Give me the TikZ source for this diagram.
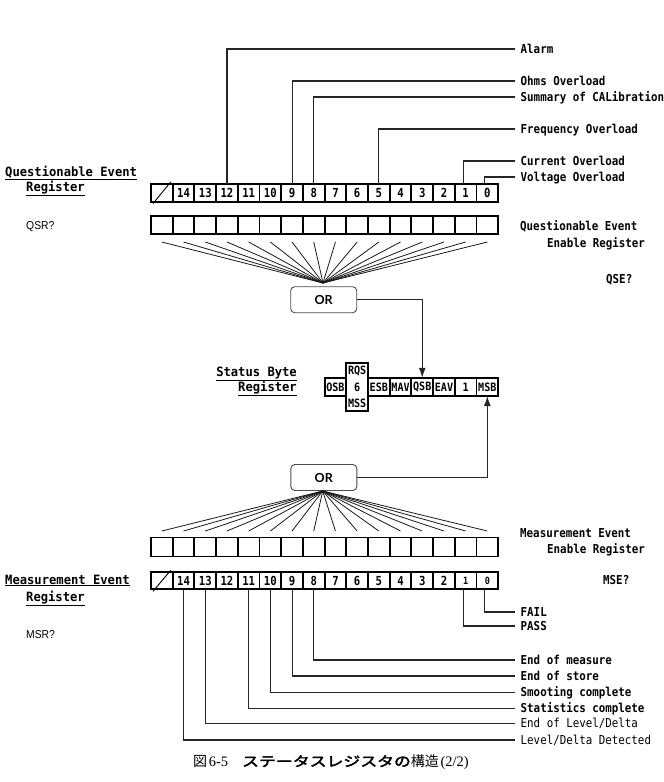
\documentclass[tikz,border=0pt]{standalone}
\usepackage{fontspec}
\setmainfont{DejaVu Sans Mono}
\newfontfamily\labf{DejaVu Sans Mono}[FakeStretch=0.88]
\newfontfamily\headf{DejaVu Sans Mono}[FakeStretch=0.95]
\newfontfamily\numf{DejaVu Sans Mono}[FakeStretch=0.85]
\newfontfamily\orf{Lato}
\newfontfamily\qsrf{Liberation Sans}[FakeStretch=0.9]
\newfontfamily\cjk{Noto Sans CJK JP}
\newfontfamily\cjkheavy{Noto Sans CJK JP}[FakeBold=3,FakeStretch=1.25]
\newfontfamily\capserif{Liberation Serif}
\usetikzlibrary{arrows.meta}
\tikzset{
  cell/.style={draw, line width=1.9pt, minimum width=21.7pt, minimum height=17.7pt,
    inner sep=0pt, outer sep=0pt, font=\numf\bfseries\fontsize{12.5}{12.5}\selectfont},
  scell/.style={cell, minimum height=18.3pt, font=\labf\bfseries\fontsize{11.5}{11.5}\selectfont},
  lbl/.style={anchor=west, inner xsep=5.5pt, inner ysep=0pt, text height=9pt, text depth=1pt,
    font=\labf\bfseries\fontsize{12.3}{12.5}\selectfont},
  lbllight/.style={lbl, font=\labf\fontsize{12.3}{12.5}\selectfont},
  txt/.style={anchor=west, inner sep=0pt, text height=9pt, text depth=1pt,
    font=\labf\bfseries\fontsize{12.3}{12.5}\selectfont},
  headtxt/.style={anchor=west, inner sep=0pt, text height=9pt, text depth=1pt,
    font=\headf\bfseries\fontsize{12.8}{12.8}\selectfont},
  qtxt/.style={anchor=west, inner sep=0pt, text height=9pt, text depth=1pt, font=\qsrf\fontsize{11.5}{11.5}\selectfont},
  conn/.style={line width=1.1pt, draw=black!85},
  fan/.style={line width=0.8pt, draw=black!90},
  orbox/.style={draw=black!70, line width=0.9pt, rounded corners=4pt, minimum width=66pt,
    minimum height=26pt, inner sep=0pt, font=\orf\bfseries\fontsize{12.5}{12.5}\selectfont},
  arr/.style={conn, -{Latex[length=10pt,width=7pt]}}
}
\begin{document}
\begin{tikzpicture}[x=1pt,y=-1pt]
\useasboundingbox (0,0) rectangle (664,782);

% ---------- Questionable Event Register ----------
\node[cell] (qr0) at (161.85,192.8) {};
\draw[line width=0.9pt] ([shift={(2pt,-2pt)}]qr0.south west) -- ([shift={(-2pt,2pt)}]qr0.north east);
\foreach \k in {1,...,15} {
  \pgfmathtruncatemacro\b{15-\k}
  \node[cell] (qr\k) at ({151+21.7*(\k+0.5)},192.8) {\b};
}
% enable register
\foreach \k in {0,...,15} {
  \node[cell] (qe\k) at ({151+21.7*(\k+0.5)},224.7) {};
}
% fan
\coordinate (apex1) at (323,283);
\foreach \k in {0,...,15} {
  \coordinate (tf\k) at ({151+21.7*(\k+0.5)},242);
  \draw[fan] (tf\k) -- (apex1);
}
\node[orbox] (or1) at (323.7,299.7) {OR};

% top labels
\node[lbl] (lAlarm) at (515,49) {Alarm};
\node[lbl] (lOhms) at (515,81) {Ohms Overload};
\node[lbl] (lSum) at (515,97) {Summary of CALibration};
\node[lbl] (lFreq) at (515,129) {Frequency Overload};
\node[lbl] (lCur) at (515,161) {Current Overload};
\node[lbl] (lVolt) at (515,177) {Voltage Overload};
\draw[conn] (qr3.north) |- (lAlarm.west);
\draw[conn] (qr6.north) |- (lOhms.west);
\draw[conn] (qr7.north) |- (lSum.west);
\draw[conn] (qr10.north) |- (lFreq.west);
\draw[conn] ([xshift=-2.5pt]qr14.north) |- (lCur.west);
\draw[conn] ([xshift=-2.5pt]qr15.north) |- (lVolt.west);

\node[headtxt] (qh1) at (5,172) {\underline{Questionable Event}};
\node[headtxt] (qh2) at (26,187) {\underline{Register}};
\node[qtxt] (qsr) at (26,225) {QSR?};
\node[txt] (qe1t) at (520,226) {Questionable Event};
\node[txt] (qe2t) at (547,243) {Enable Register};
\node[txt] (qse) at (606,279) {QSE?};

% ---------- Status Byte Register ----------
\node[scell] (sOSB) at ({151+21.7*8.5},386.9) {OSB};
\node[cell, minimum height=48.3pt] (sRQS) at ({151+21.7*9.5},386.9) {};
\node[inner sep=0pt, font=\labf\bfseries\fontsize{11.5}{11.5}\selectfont] (tRQS) at ({151+21.7*9.5},371.5) {RQS};
\node[inner sep=0pt, font=\labf\bfseries\fontsize{11.5}{11.5}\selectfont] (t6) at ({151+21.7*9.5},387) {6};
\node[inner sep=0pt, font=\labf\bfseries\fontsize{11.5}{11.5}\selectfont] (tMSS) at ({151+21.7*9.5},403) {MSS};
\node[scell] (sESB) at ({151+21.7*10.5},386.9) {ESB};
\node[scell] (sMAV) at ({151+21.7*11.5},386.9) {MAV};
\node[scell] (sQSB) at ({151+21.7*12.5},386.9) {QSB};
\node[scell] (sEAV) at ({151+21.7*13.5},386.9) {EAV};
\node[scell] (s1) at ({151+21.7*14.5},386.9) {1};
\node[scell] (sMSB) at ({151+21.7*15.5},386.9) {MSB};
\node[headtxt, anchor=east] (sb1) at (297,372) {\underline{Status Byte}};
\node[headtxt, anchor=east] (sb2) at (297,387) {\underline{Register}};

\draw[arr] (or1.east) -| (sQSB.north);

% ---------- Measurement Event Register ----------
\node[orbox] (or2) at (323.8,477.5) {OR};
\draw[arr] (or2.east) -| (sMSB.south);
\coordinate (apex2) at (322.7,491);
\foreach \k in {0,...,15} {
  \coordinate (bf\k) at ({151+21.7*(\k+0.5)},531);
  \draw[fan] (bf\k) -- (apex2);
}
\foreach \k in {0,...,15} {
  \node[cell, minimum height=19pt] (me\k) at ({151+21.7*(\k+0.5)},547) {};
}
\node[cell, minimum height=17pt] (mr0) at (161.85,580.8) {};
\draw[line width=0.9pt] ([shift={(2pt,-2pt)}]mr0.south west) -- ([shift={(-2pt,2pt)}]mr0.north east);
\foreach \k in {1,...,13} {
  \pgfmathtruncatemacro\b{15-\k}
  \node[cell, minimum height=17pt] (mr\k) at ({151+21.7*(\k+0.5)},580.8) {\b};
}
\node[cell, minimum height=17pt, font=\numf\bfseries\fontsize{10}{10}\selectfont] (mr14) at ({151+21.7*14.5},580.8) {1};
\node[cell, minimum height=17pt, font=\numf\bfseries\fontsize{10}{10}\selectfont] (mr15) at ({151+21.7*15.5},580.8) {0};

\node[txt] (me1t) at (520,533) {Measurement Event};
\node[txt] (me2t) at (547,549) {Enable Register};
\node[txt] (mse) at (603,580) {MSE?};
\node[headtxt] (mh1) at (5,580) {\underline{Measurement Event}};
\node[headtxt] (mh2) at (26,597) {\underline{Register}};
\node[qtxt] (msr) at (26,634) {MSR?};

% bottom labels
\node[lbl] (lFail) at (515,612) {FAIL};
\node[lbl] (lPass) at (515,626) {PASS};
\node[lbl] (lEom) at (515,660) {End of measure};
\node[lbl] (lEos) at (515,676) {End of store};
\node[lbl] (lSmo) at (515,692.5) {Smooting complete};
\node[lbl] (lSta) at (515,708.3) {Statistics complete};
\node[lbllight] (lEld) at (515,723.5) {End of Level/Delta};
\node[lbllight] (lLdd) at (515,740) {Level/Delta Detected};
\draw[conn] ([xshift=-2.5pt]mr15.south) |- (lFail.west);
\draw[conn] ([xshift=-2.5pt]mr14.south) |- (lPass.west);
\draw[conn] (mr7.south) |- (lEom.west);
\draw[conn] (mr6.south) |- (lEos.west);
\draw[conn] (mr5.south) |- (lSmo.west);
\draw[conn] (mr4.south) |- (lSta.west);
\draw[conn] (mr2.south) |- (lEld.west);
\draw[conn] (mr1.south) |- (lLdd.west);

% caption
\node[anchor=west, inner sep=0pt] (cap) at (193,762)
  {{\cjk\fontsize{14}{14}\selectfont 図}\,{\capserif\fontsize{14.5}{14.5}\selectfont 6-5}\hspace{14pt}{\cjkheavy\fontsize{13.5}{13.5}\selectfont ステータスレジスタの}{\cjk\fontsize{14}{14}\selectfont 構造}\,{\capserif\fontsize{14.5}{14.5}\selectfont (2/2)}};
\end{tikzpicture}
\end{document}
